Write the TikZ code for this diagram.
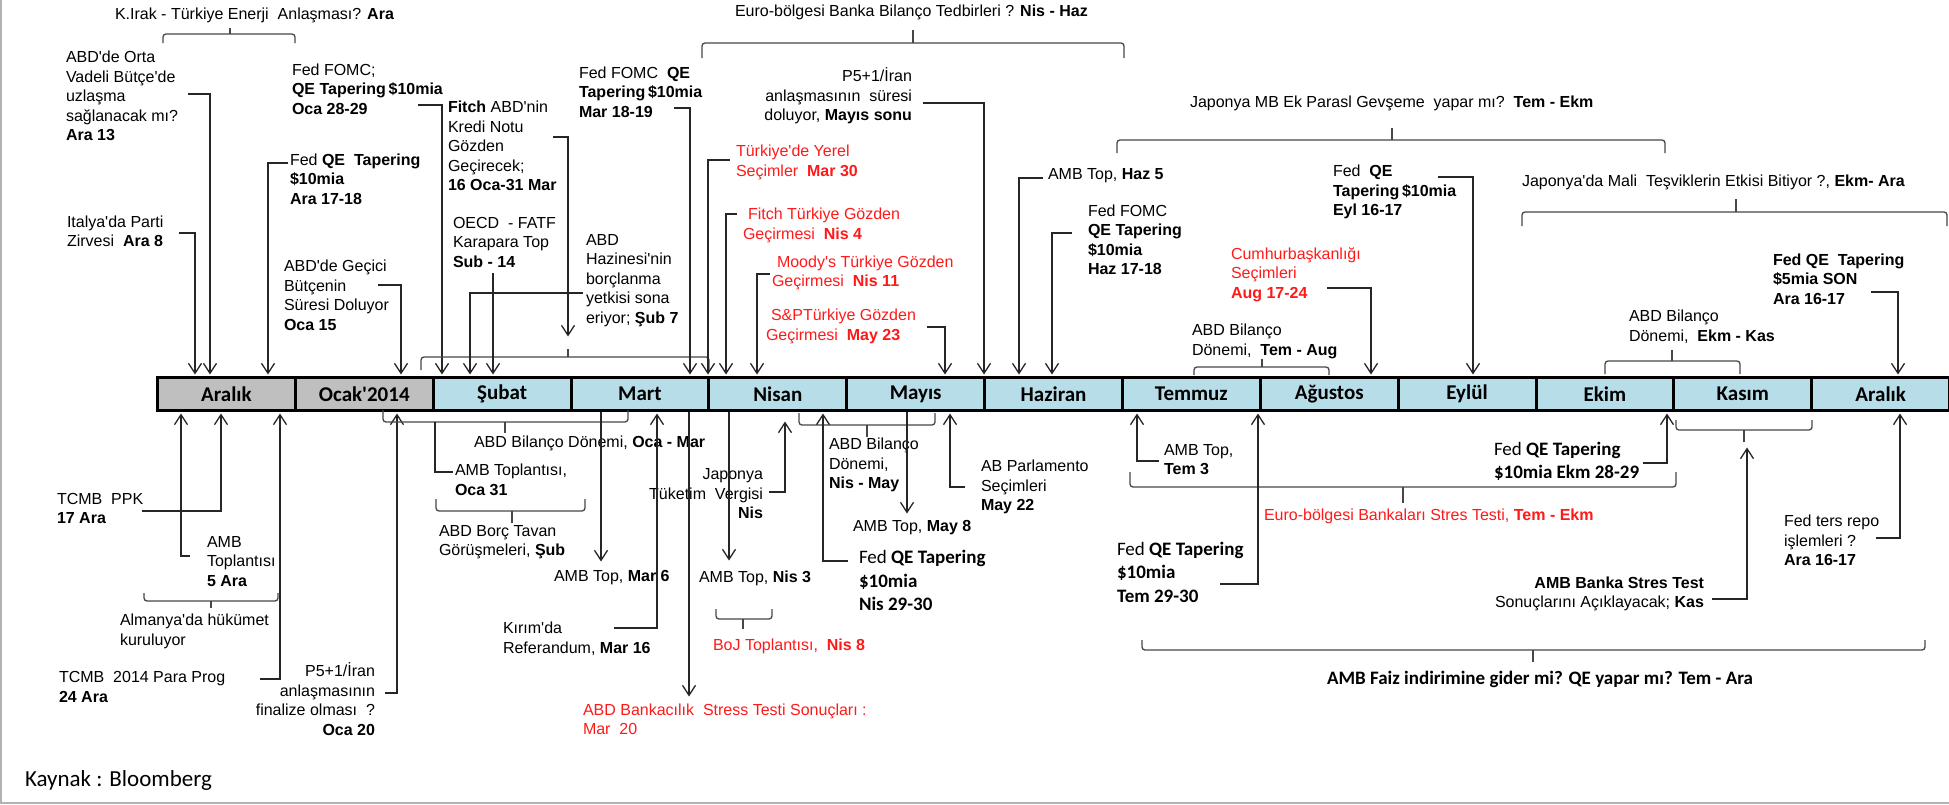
\documentclass[tikz,border=0pt]{standalone}
\usepackage{fontspec}
\setmainfont{Liberation Sans}
\newfontfamily\calfont{Carlito}
\usetikzlibrary{arrows.meta}
\definecolor{linec}{HTML}{262626}
\definecolor{txtred}{HTML}{FF1A1A}
\definecolor{mgray}{HTML}{BFBFBF}
\definecolor{mblue}{HTML}{B7DDE8}
\newcommand\txtA{\fontsize{16}{19.5}\selectfont}
\newcommand\txtC{\calfont\fontsize{19}{23.5}\selectfont}
\newcommand\apo{\textquotesingle}
\newcommand\tlbrace[6]{%
  \draw[brc] (#1,#4) -- (#1,#3) -- (#2,#3) -- (#2,#4);
  \draw[brc] (#5,#3) -- (#5,#6);}
\begin{document}
\begin{tikzpicture}[x=1pt,y=-1pt,
  lbl/.style={inner sep=0pt, outer sep=0pt, align=left, anchor=west, font=\txtA},
  lblr/.style={lbl, align=right, anchor=east},
  cal/.style={lbl, font=\txtC},
  arr/.style={draw=linec, line width=1.3pt, shorten >=1.5pt, -{Straight Barb[length=10pt,width=13pt]}},
  ln/.style={draw=linec, line width=1.3pt},
  brc/.style={draw=linec!85, line width=1.3pt, rounded corners=3pt},
  month/.style={draw=black, line width=3pt, minimum width=137.85pt, minimum height=33pt, inner sep=0pt, anchor=north west, font=\calfont\bfseries\fontsize{21}{21}\selectfont}]
\useasboundingbox (0,0) rectangle (1949,804);
\fill[white] (0,0) rectangle (1949,804);
\draw[gray!60, line width=2pt] (1,0) -- (1,803) -- (1949,803);

% months
\node[month, fill=mgray] (m0) at (156,376) {Aralık};
\node[month, fill=mgray] (m1) at (293.85,376) {Ocak\apo 2014};
\node[month, fill=mblue] (m2) at (431.7,376) {Şubat};
\node[month, fill=mblue] (m3) at (569.55,376) {Mart};
\node[month, fill=mblue] (m4) at (707.4,376) {Nisan};
\node[month, fill=mblue] (m5) at (845.25,376) {Mayıs};
\node[month, fill=mblue] (m6) at (983.1,376) {Haziran};
\node[month, fill=mblue] (m7) at (1120.95,376) {Temmuz};
\node[month, fill=mblue] (m8) at (1258.8,376) {Ağustos};
\node[month, fill=mblue] (m9) at (1396.65,376) {Eylül};
\node[month, fill=mblue] (m10) at (1534.5,376) {Ekim};
\node[month, fill=mblue] (m11) at (1672.35,376) {Kasım};
\node[month, fill=mblue] (m12) at (1810.2,376) {Aralık};

% top labels
\node[lbl] (kirak) at (115,15) {K.Irak - Türkiye Enerji\ \ Anlaşması? \textbf{Ara}};
\node[lbl] (orta) at (66,96) {ABD\apo de Orta\\Vadeli Bütçe\apo de\\uzlaşma\\sağlanacak mı?\\\textbf{Ara 13}};
\node[lbl] (italya) at (67,231.5) {Italya\apo da Parti\\Zirvesi\ \ \textbf{Ara 8}};
\node[lbl] (fomc1) at (292,89) {Fed FOMC;\\\textbf{QE Tapering\,\$10mia}\\\textbf{Oca 28-29}};
\node[lbl] (qe1) at (290,179) {Fed \textbf{QE\ \ Tapering}\\\textbf{\$10mia}\\\textbf{Ara 17-18}};
\node[lbl] (gecici) at (284,295.5) {ABD\apo de Geçici\\Bütçenin\\Süresi Doluyor\\\textbf{Oca 15}};
\node[lbl] (fitch) at (448,146) {\textbf{Fitch} ABD\apo nin\\Kredi Notu\\Gözden\\Geçirecek;\\\textbf{16 Oca-31 Mar}};
\node[lbl] (oecd) at (453,242) {OECD\ \ - FATF\\Karapara Top\\\textbf{Sub - 14}};
\node[lbl] (fomc2) at (579,92) {Fed FOMC\ \ \textbf{QE}\\\textbf{Tapering\,\$10mia}\\\textbf{Mar 18-19}};
\node[lbl] (hazine) at (586,280.5) {ABD\\Hazinesi\apo nin\\borçlanma\\yetkisi sona\\eriyor; \textbf{Şub 7}};
\node[lbl] (eurob) at (735,12) {Euro-bölgesi Banka Bilanço Tedbirleri ? \textbf{Nis - Haz}};
\node[lblr] (p5a) at (912,96) {P5+1/İran\\anlaşmasının\ \ süresi\\doluyor, \textbf{Mayıs sonu}};
\node[lbl, text=txtred] (yerel) at (736,162.5) {Türkiye\apo de Yerel\\Seçimler\ \ \textbf{Mar 30}};
\node[lbl, text=txtred] (fitchtr) at (743,225.5) {\hspace*{5pt}Fitch Türkiye Gözden\\Geçirmesi\ \ \textbf{Nis 4}};
\node[lbl, text=txtred] (moodys) at (772,273) {\hspace*{5pt}Moody\apo s Türkiye Gözden\\Geçirmesi\ \ \textbf{Nis 11}};
\node[lbl, text=txtred] (sp) at (766,326.5) {\hspace*{5pt}S\&PTürkiye Gözden\\Geçirmesi\ \ \textbf{May 23}};
\node[lbl] (amb5) at (1048,176) {AMB Top, \textbf{Haz 5}};
\node[lbl] (fomc3) at (1088,240) {Fed FOMC\\\textbf{QE Tapering}\\\textbf{\$10mia}\\\textbf{Haz 17-18}};
\node[lbl] (japmb) at (1190,103) {Japonya MB Ek Parasl Gevşeme\ \ yapar mı?\ \ \textbf{Tem - Ekm}};
\node[lbl] (qe4) at (1333,192) {Fed\ \ \textbf{QE}\\\textbf{Tapering\,\$10mia}\\\textbf{Eyl 16-17}};
\node[lbl, text=txtred] (cumhur) at (1231,274.5) {Cumhurbaşkanlığı\\Seçimleri\\\textbf{Aug 17-24}};
\node[lbl] (japmali) at (1522,182) {Japonya\apo da Mali\ \ Teşviklerin Etkisi Bitiyor ?, \textbf{Ekm- Ara}};
\node[lbl] (qe5) at (1773,279) {\textbf{Fed QE\ \ Tapering}\\\textbf{\$5mia SON}\\\textbf{Ara 16-17}};
\node[lbl] (bil2) at (1192,341.5) {ABD Bilanço\\Dönemi,\ \ \textbf{Tem - Aug}};
\node[lbl] (bil3) at (1629,326.5) {ABD Bilanço\\Dönemi,\ \ \textbf{Ekm - Kas}};

% top connectors and braces
\tlbrace{163}{295}{34}{43}{230}{28}
\draw[arr] (188,94) -| (210,0 |- m0.north);
\draw[arr] (179,233) -| (195,0 |- m0.north);
\draw[arr] (418,105) -| (442,0 |- m2.north);
\draw[arr] (288,163) -| (268,0 |- m0.north);
\draw[arr] (378,285) -| (401,0 |- m1.north);
\draw[arr] (553,137) -| (568,338);
\tlbrace{421}{709}{357}{370}{568}{349}
\draw[arr] (493,273) -- (493,0 |- m2.north);
\draw[arr] (674,108) -| (690,0 |- m3.north);
\draw[arr] (583,293) -| (470,0 |- m2.north);
\tlbrace{702}{1124}{43}{58}{913}{30}
\draw[arr] (923,103) -| (984,0 |- m6.north);
\draw[arr] (730,160) -| (708,0 |- m4.north);
\draw[arr] (737,214) -| (726,0 |- m4.north);
\draw[arr] (770,274) -| (757,0 |- m4.north);
\draw[arr] (927,327) -| (945,0 |- m5.north);
\draw[arr] (1043,178) -| (1019,0 |- m6.north);
\draw[arr] (1072,233) -| (1052,0 |- m6.north);
\tlbrace{1117}{1665}{140}{153}{1392}{128}
\draw[arr] (1438,177) -| (1473,0 |- m9.north);
\draw[arr] (1327,288) -| (1371,0 |- m8.north);
\tlbrace{1522}{1947}{212}{226}{1736}{199}
\draw[arr] (1871,292) -| (1898,0 |- m12.north);
\tlbrace{1194}{1329}{367}{375}{1262}{359}
\tlbrace{1605}{1740}{361}{374}{1672}{350}

% bottom labels
\node[lbl] (ppk) at (57,508.5) {TCMB\ \ PPK\\\textbf{17 Ara}};
\node[lbl] (amb5ara) at (207,561.5) {AMB\\Toplantısı\\\textbf{5 Ara}};
\node[lbl] (almanya) at (120,631.5) {Almanya\apo da hükümet\\kuruluyor};
\node[lbl] (parapr) at (59,687) {TCMB\ \ 2014 Para Prog\\\textbf{24 Ara}};
\node[lblr] (p5b) at (375,699) {P5+1/İran\\anlaşmasının\\finalize olması\ \ ?\\\textbf{Oca 20}};
\node[lbl] (bil1) at (474,443) {ABD Bilanço Dönemi, \textbf{Oca - Mar}};
\node[lbl] (amb31) at (455,480) {AMB Toplantısı,\\\textbf{Oca 31}};
\node[lbl] (borc) at (439,542) {ABD Borç Tavan\\Görüşmeleri, \textbf{Şub}};
\node[lbl] (amb6) at (554,578) {AMB Top, \textbf{Mar 6}};
\node[lbl] (kirim) at (503,638.5) {Kırım\apo da\\Referandum, \textbf{Mar 16}};
\node[lbl, text=txtred] (stress) at (583,719.5) {ABD Bankacılık\ \ Stress Testi Sonuçları :\\Mar\ \ 20};
\node[lblr] (japtuk) at (763,494) {Japonya\\Tüketim\ \ Vergisi\\\textbf{Nis}};
\node[lbl] (amb3) at (699,578) {AMB Top, \textbf{Nis 3}};
\node[lbl, text=txtred] (boj) at (713,646) {BoJ Toplantısı,\ \ \textbf{Nis 8}};
\node[lbl] (bil4) at (829,465) {ABD Bilanço\\Dönemi,\\\textbf{Nis - May}};
\node[lbl] (amb8) at (853,528) {AMB Top, \textbf{May 8}};
\node[cal] (qe6) at (859,580.5) {Fed \textbf{QE Tapering}\\\textbf{\$10mia}\\\textbf{Nis 29-30}};
\node[lbl] (abparl) at (981,487) {AB Parlamento\\Seçimleri\\\textbf{May 22}};
\node[lbl] (amb3tem) at (1164,459.5) {AMB Top,\\\textbf{Tem 3}};
\node[lbl, text=txtred] (eurostres) at (1264,516) {Euro-bölgesi Bankaları Stres Testi, \textbf{Tem - Ekm}};
\node[cal] (qe7) at (1117,572) {Fed \textbf{QE Tapering}\\\textbf{\$10mia}\\\textbf{Tem 29-30}};
\node[cal] (qe8) at (1494,461.5) {Fed \textbf{QE Tapering}\\\textbf{\$10mia Ekm 28-29}};
\node[lblr] (ambstres) at (1704,594) {\textbf{AMB Banka Stres Test}\\Sonuçlarını Açıklayacak; \textbf{Kas}};
\node[lbl] (repo) at (1784,540.5) {Fed ters repo\\işlemleri ?\\\textbf{Ara 16-17}};
\node[lbl, font=\calfont\bfseries\fontsize{19}{23}\selectfont] (faiz) at (1327,679) {AMB Faiz indirimine gider mi? QE yapar mı? Tem - Ara};
\node[lbl, font=\calfont\fontsize{23}{27}\selectfont] (kaynak) at (25,780) {Kaynak : Bloomberg};

% bottom connectors and braces
\draw[arr] (142,511) -| (221,0 |- m0.south);
\draw[arr] (190,556) -| (181,0 |- m0.south);
\tlbrace{144}{278}{601}{593}{211}{608}
\draw[arr] (260,679) -| (280,0 |- m0.south);
\draw[arr] (385,693) -| (397,0 |- m1.south);
\tlbrace{383}{628}{422}{410}{505}{433}
\draw[ln] (453,472) -| (435,422);
\tlbrace{436}{585}{511}{499}{512}{523}
\draw[arr] (601,0 |- m3.south) -- (601,563);
\draw[arr] (614,628) -| (657,0 |- m3.south);
\draw[arr] (689,0 |- m3.south) -- (689,698);
\draw[arr] (769,492) -| (785,420);
\draw[arr] (729,0 |- m4.south) -- (729,562);
\tlbrace{716}{772}{619}{609}{743}{629}
\tlbrace{799}{935}{425}{413}{867}{437}
\draw[arr] (907,0 |- m5.south) -- (907,515);
\draw[arr] (848,561) -| (823,0 |- m4.south);
\draw[arr] (965,487) -| (950,0 |- m5.south);
\draw[arr] (1159,461) -| (1137,0 |- m7.south);
\tlbrace{1130}{1676}{487}{472}{1403}{503}
\draw[arr] (1220,584) -| (1258,0 |- m7.south);
\draw[arr] (1643,463) -| (1667,0 |- m10.south);
\tlbrace{1676}{1812}{430}{420}{1744}{442}
\draw[arr] (1712,599) -| (1747,446);
\draw[arr] (1876,538) -| (1900,0 |- m12.south);
\tlbrace{1142}{1925}{650}{640}{1533}{662}
\end{tikzpicture}
\end{document}
